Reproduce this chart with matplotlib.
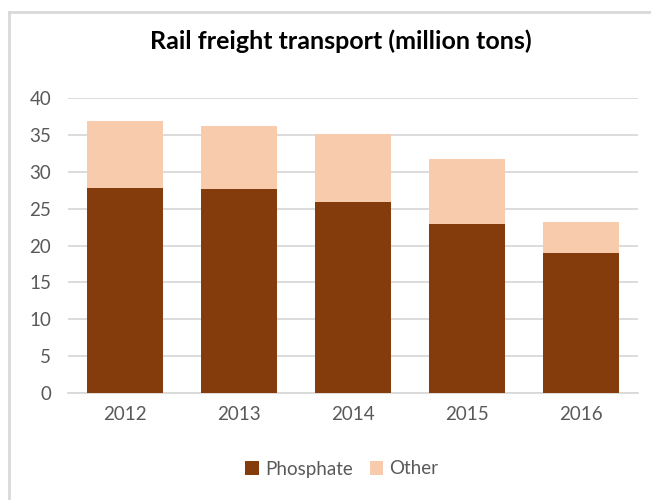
import matplotlib.pyplot as plt
import numpy as np
from matplotlib.lines import Line2D

years = ["2012", "2013", "2014", "2015", "2016"]
phosphate = [27.8, 27.7, 25.9, 22.9, 19.0]
total = [36.9, 36.2, 35.1, 31.7, 23.2]
other = [t - p for t, p in zip(total, phosphate)]

BROWN = "#843C0C"
PEACH = "#F8CBAD"
GRID = "#D9D9D9"
TEXT = "#595959"

plt.rcParams["font.family"] = ["Lato", "DejaVu Sans"]

fig = plt.figure(figsize=(6.51, 5.0), dpi=100)
ax = fig.add_axes([68 / 651, 1 - 393.3 / 500, 570 / 651, 295.6 / 500])

x = np.arange(len(years))
ax.bar(x, phosphate, width=0.667, color=BROWN, label="Phosphate", zorder=3)
ax.bar(x, other, width=0.667, bottom=phosphate, color=PEACH, label="Other", zorder=3)

ax.set_xlim(-0.5, len(years) - 0.5)
ax.set_ylim(0, 40)
ax.set_yticks(range(0, 41, 5))
ax.set_xticks(x)
ax.set_xticklabels(years)
ax.yaxis.grid(True, color=GRID, linewidth=1.3, zorder=0)
ax.tick_params(axis="both", length=0, labelsize=13.5, labelcolor=TEXT)
ax.tick_params(axis="x", pad=9)
ax.tick_params(axis="y", pad=12)
for side in ["top", "right", "left"]:
    ax.spines[side].set_visible(False)
ax.spines["bottom"].set_color(GRID)
ax.spines["bottom"].set_linewidth(1.3)

fig.text(341 / 651, 1 - 41 / 500, "Rail freight transport (million tons)",
         ha="center", va="center", fontsize=18, fontweight="bold", color="black")

ax.legend(loc="center", bbox_to_anchor=(342 / 651, 1 - 469 / 500),
          bbox_transform=fig.transFigure, ncol=2, frameon=False,
          fontsize=13.5, labelcolor=TEXT, handlelength=0.7, handleheight=0.7,
          handletextpad=0.35, columnspacing=0.9)

# chart frame
fig.add_artist(Line2D([9 / 651, 1], [1 - 12 / 500, 1 - 12 / 500],
                      transform=fig.transFigure, color=GRID, linewidth=2))
fig.add_artist(Line2D([9 / 651, 9 / 651], [0, 1 - 12 / 500],
                      transform=fig.transFigure, color=GRID, linewidth=2))

fig.savefig("out.png", dpi=100)
